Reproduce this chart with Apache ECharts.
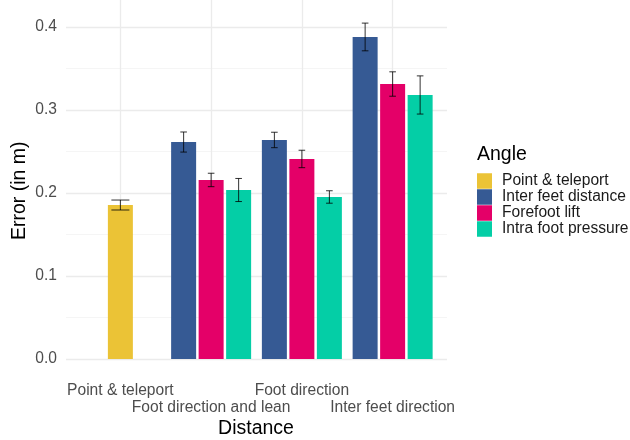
<!DOCTYPE html>
<html>
<head>
<meta charset="utf-8">
<script src="https://cdn.jsdelivr.net/npm/echarts@6/dist/echarts.min.js"></script>
<style>
html,body{margin:0;padding:0;background:#fff;}
#chart{width:630px;height:440px;}
</style>
</head>
<body>
<div id="chart"></div>
<script>
// ---- Data ----
const categories = ['Point & teleport', 'Foot direction and lean', 'Foot direction', 'Inter feet direction'];
const legendOrder = ['Point & teleport', 'Inter feet distance', 'Forefoot lift', 'Intra foot pressure'];
const yTicks = [0, 0.1, 0.2, 0.3, 0.4];

const pointTeleport      = [0.1855, '-', '-', '-'];
const pointTeleportErr   = [0.006, null, null, null];
const interFeetDistance    = ['-', 0.2614, 0.2639, 0.3880];
const interFeetDistanceErr = [null, 0.0121, 0.0093, 0.0167];
const forefootLift         = ['-', 0.2157, 0.2410, 0.3313];
const forefootLiftErr      = [null, 0.0081, 0.0105, 0.0147];
const intraFootPressure    = ['-', 0.2036, 0.1952, 0.3181];
const intraFootPressureErr = [null, 0.0139, 0.0075, 0.0230];

// ---- Styles ----
const COLORS = {
  'Point & teleport': '#EBC336',
  'Inter feet distance': '#365A94',
  'Forefoot lift': '#E40068',
  'Intra foot pressure': '#04CEA6'
};
const FONT = 'Liberation Sans, Arial, Helvetica, sans-serif';
const BAR_W = 25, BAR_GAP_PX = 2.5;

// error bar data: [catIndex, low, high, slot(-1,0,1), wide(0/1)]
function errData(vals, errs, slot, wide) {
  const out = [];
  vals.forEach((v, i) => {
    if (typeof v === 'number' && errs[i] != null) out.push([i, v - errs[i], v + errs[i], slot, wide]);
  });
  return out;
}
const errorData = [].concat(
  errData(pointTeleport, pointTeleportErr, 0, 1),
  errData(interFeetDistance, interFeetDistanceErr, -1, 0),
  errData(forefootLift, forefootLiftErr, 0, 0),
  errData(intraFootPressure, intraFootPressureErr, 1, 0)
);

const chart = echarts.init(document.getElementById('chart'), null, {renderer: 'canvas'});

const barBase = {
  type: 'bar', xAxisIndex: 1, yAxisIndex: 1,
  barWidth: BAR_W, barGap: '10%', silent: true, z: 2
};

chart.setOption({
  animation: false,
  textStyle: {fontFamily: FONT},
  grid: [
    {left: 66, top: 27, width: 381, height: 332},
    {left: 75, top: 6, width: 363, height: 369.5}
  ],
  xAxis: [
    {type: 'value', gridIndex: 0, show: false, min: 0, max: 1},
    {
      type: 'category', gridIndex: 1, data: categories,
      axisLine: {show: false},
      axisTick: {show: true, inside: true, alignWithLabel: true, length: 369.5,
                 lineStyle: {color: '#ebebeb', width: 1.3}},
      axisLabel: {
        interval: 0, fontSize: 15.6, color: '#4d4d4d', margin: 6, lineHeight: 17.5,
        fontFamily: FONT,
        formatter: (v, i) => (i % 2 ? '\n' + v : v)
      },
      splitLine: {show: false}
    }
  ],
  yAxis: [
    {
      type: 'value', gridIndex: 0, min: yTicks[0], max: yTicks[yTicks.length - 1], interval: 0.1,
      axisLine: {show: false}, axisTick: {show: false},
      axisLabel: {fontSize: 15.6, color: '#4d4d4d', margin: 9, fontFamily: FONT,
                  formatter: v => v.toFixed(1)},
      splitLine: {show: true, lineStyle: {color: '#ebebeb', width: 1.3}},
      minorTick: {show: false, splitNumber: 2},
      minorSplitLine: {show: true, lineStyle: {color: '#f3f3f3', width: 0.8}}
    },
    {type: 'value', gridIndex: 1, min: -0.0199, max: 0.4253, show: false}
  ],
  legend: {
    data: legendOrder,
    orient: 'vertical', left: 477, top: 173, padding: 0,
    itemWidth: 15, itemHeight: 15.5, itemGap: 0, icon: 'rect',
    selectedMode: false,
    textStyle: {fontSize: 15.6, color: '#1a1a1a', lineHeight: 15.5, padding: [0, 0, 0, 5], fontFamily: FONT}
  },
  graphic: [
    {type: 'text', left: 477, top: 145, style: {text: 'Angle', fontSize: 19.5, fill: '#000', fontFamily: FONT}},
    {type: 'text', x: 256, y: 429, style: {text: 'Distance', fontSize: 19.5, fill: '#000', fontFamily: FONT,
      align: 'center', verticalAlign: 'middle'}},
    {type: 'text', x: 19.5, y: 190.8, rotation: Math.PI / 2,
      style: {text: 'Error (in m)', fontSize: 19.5, fill: '#000', fontFamily: FONT,
      align: 'center', verticalAlign: 'middle'}}
  ],
  series: [
    Object.assign({}, barBase, {name: 'Inter feet distance', data: interFeetDistance,
      itemStyle: {color: COLORS['Inter feet distance']}}),
    Object.assign({}, barBase, {name: 'Point & teleport', stack: 'mid', data: pointTeleport,
      itemStyle: {color: COLORS['Point & teleport']}}),
    Object.assign({}, barBase, {name: 'Forefoot lift', stack: 'mid', data: forefootLift,
      itemStyle: {color: COLORS['Forefoot lift']}}),
    Object.assign({}, barBase, {name: 'Intra foot pressure', data: intraFootPressure,
      itemStyle: {color: COLORS['Intra foot pressure']}}),
    {
      type: 'custom', name: 'errors', xAxisIndex: 1, yAxisIndex: 1, z: 5, silent: true,
      data: errorData,
      encode: {x: 0, y: [1, 2]},
      renderItem: function (params, api) {
        const cat = api.value(0);
        const lo = api.coord([cat, api.value(1)]);
        const hi = api.coord([cat, api.value(2)]);
        const x = lo[0] + api.value(3) * (BAR_W + BAR_GAP_PX);
        const half = api.value(4) ? 9 : 3.3;
        const st = {stroke: '#000', lineWidth: 1, opacity: 0.8};
        return {
          type: 'group',
          children: [
            {type: 'line', shape: {x1: x, y1: lo[1], x2: x, y2: hi[1]}, style: st},
            {type: 'line', shape: {x1: x - half, y1: lo[1], x2: x + half, y2: lo[1]}, style: st},
            {type: 'line', shape: {x1: x - half, y1: hi[1], x2: x + half, y2: hi[1]}, style: st}
          ]
        };
      }
    }
  ]
});
</script>
</body>
</html>
